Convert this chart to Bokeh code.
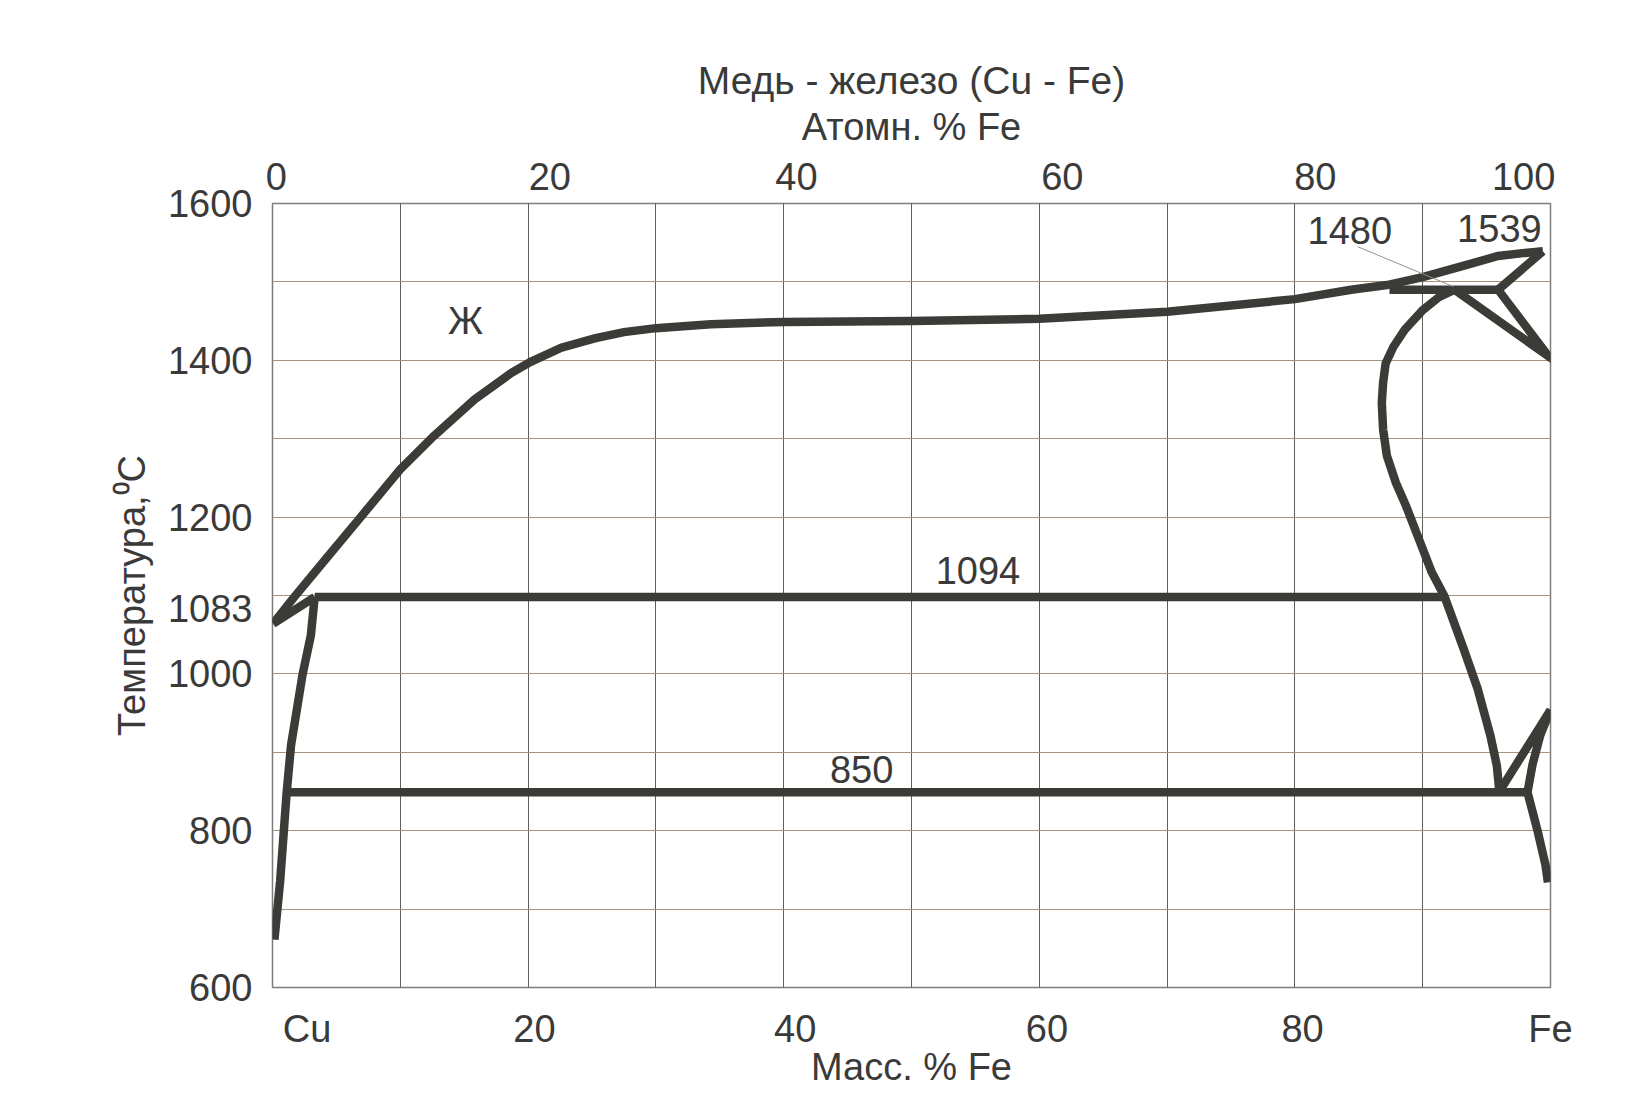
from bokeh.plotting import figure
from bokeh.models import Range1d, FixedTicker, LinearAxis, ColumnDataSource
from bokeh.core.properties import value
from bokeh.embed import file_html
from bokeh.resources import INLINE

# ---------------- data (mass % Fe, temperature °C) ----------------
# liquidus from the Cu side up to the Fe melting point
liquidus_x = [0.05, 1.6, 4.3, 6.9, 10.0, 12.6, 15.8, 18.7, 20.2, 22.6, 25.2, 27.5, 30.0, 34.3,
              40.0, 50.0, 60.0, 70.0, 80.0, 84.4, 87.2, 90.0, 93.3, 95.9, 98.0, 99.4]
liquidus_T = [1064, 1096, 1149, 1200, 1261, 1303, 1350, 1384, 1398, 1416, 1428, 1436, 1441, 1446,
              1449, 1450, 1453, 1462, 1478, 1490, 1496, 1506, 1521, 1533, 1537, 1539]
# short branch from the Cu point up to the 1094 isotherm
cu_branch_x = [0.05, 3.3]
cu_branch_T = [1064, 1098]
# solidus / solvus of the Cu-rich phase
cu_solvus_x = [3.3, 3.0, 2.35, 1.45, 1.1, 0.6, 0.15]
cu_solvus_T = [1098, 1049, 999, 909, 847, 736, 661]
# delta region near pure Fe
delta_x = [99.4, 95.9, 99.85, 92.5]
delta_T = [1539, 1490, 1405, 1490]
# gamma boundary (Fe-rich side)
gamma_x = [92.5, 91.3, 90.0, 88.6, 87.7, 87.1, 86.9, 86.8, 86.9, 87.2, 87.9, 88.7, 89.7,
           90.7, 91.7, 93.2, 94.3, 95.3, 95.8, 96.0]
gamma_T = [1490, 1481, 1464, 1439, 1417, 1396, 1371, 1346, 1312, 1278, 1244, 1214, 1172,
           1130, 1099, 1032, 981, 921, 883, 850]
# alpha region near pure Fe (low temperature)
alpha_x = [96.0, 100.0, 99.2, 98.6, 98.2, 99.0, 99.6, 99.8]
alpha_T = [850, 954, 922, 885, 849, 799, 757, 734]
# isotherms
iso_1094_x = [3.3, 91.7]
iso_1094_T = [1098, 1098]
iso_850_x = [1.1, 98.2]
iso_850_T = [849, 849]
iso_1480_x = [87.4, 95.9]
iso_1480_T = [1490, 1490]
# leader line for the 1480 label
leader_x = [84.9, 92.4]
leader_T = [1545, 1494]

# labels inside the plot
note_text = ["Ж", "1094", "850", "1480", "1539"]
note_x = [15.1, 55.2, 46.1, 84.3, 96.0]
note_T = [1450, 1132, 878, 1566, 1568]

# axes
y_ticks = [600, 800, 1000, 1083, 1200, 1400, 1600]
bottom_ticks = [2.7, 20.5, 40.9, 60.6, 80.6, 100.0]
bottom_labels = ["Cu", "20", "40", "60", "80", "Fe"]
top_ticks = [0.3, 21.7, 41.0, 61.8, 81.6, 97.9]
top_labels = ["0", "20", "40", "60", "80", "100"]

FONT = "Liberation Sans"
TXT = "#3a3a3a"
LINE = "#3b3b37"
FS = "38px"

p = figure(width=1628, height=1090, x_range=Range1d(0, 100), y_range=Range1d(600, 1600),
           output_backend="svg", toolbar_location=None,
           min_border_left=272, min_border_right=78, min_border_top=203, min_border_bottom=100)

p.background_fill_color = "white"
p.border_fill_color = "white"
p.outline_line_color = "#7d7d80"
p.outline_line_width = 1.5

# grid
p.xgrid.ticker = FixedTicker(ticks=list(range(0, 101, 10)))
p.ygrid.ticker = FixedTicker(ticks=list(range(600, 1601, 100)))
p.xgrid.grid_line_color = "#5e5e5e"
p.xgrid.grid_line_width = 1
p.ygrid.grid_line_color = "#a8927c"
p.ygrid.grid_line_width = 1

# title
p.title.text = "Медь - железо (Cu - Fe)"
p.title.align = "center"
p.title.text_font = FONT
p.title.text_font_size = "39px"
p.title.text_font_style = "normal"
p.title.text_color = TXT
p.title.standoff = 2

def style_axis(ax):
    ax.axis_line_color = None
    ax.major_tick_line_color = None
    ax.minor_tick_line_color = None
    ax.major_tick_in = 0
    ax.major_tick_out = 0
    ax.minor_tick_in = 0
    ax.minor_tick_out = 0
    ax.major_label_text_font = FONT
    ax.major_label_text_font_size = FS
    ax.major_label_text_color = TXT
    ax.axis_label_text_font = FONT
    ax.axis_label_text_font_size = FS
    ax.axis_label_text_font_style = "normal"
    ax.axis_label_text_color = TXT

bx = p.below[0]
style_axis(bx)
bx.ticker = FixedTicker(ticks=bottom_ticks)
bx.major_label_overrides = {t: l for t, l in zip(bottom_ticks, bottom_labels)}
bx.axis_label = "Масс. % Fe"
bx.major_label_standoff = 20
bx.axis_label_standoff = -7

ly = p.left[0]
style_axis(ly)
ly.ticker = FixedTicker(ticks=y_ticks)
ly.axis_label = "Температура,⁰C"
ly.major_label_standoff = 20
ly.axis_label_standoff = 12

tx = LinearAxis()
style_axis(tx)
tx.ticker = FixedTicker(ticks=top_ticks)
tx.major_label_overrides = {t: l for t, l in zip(top_ticks, top_labels)}
tx.axis_label = "Атомн. % Fe"
tx.major_label_standoff = 14
tx.axis_label_standoff = 12
p.add_layout(tx, "above")

# curves
LW = 8.5
for xs, ts in [(liquidus_x, liquidus_T), (cu_branch_x, cu_branch_T), (cu_solvus_x, cu_solvus_T),
               (delta_x, delta_T), (gamma_x, gamma_T), (alpha_x, alpha_T),
               (iso_1094_x, iso_1094_T), (iso_850_x, iso_850_T), (iso_1480_x, iso_1480_T)]:
    p.line(xs, ts, line_color=LINE, line_width=LW, line_join="miter", line_cap="butt")

p.line(leader_x, leader_T, line_color="#9a9088", line_width=1)

src = ColumnDataSource(dict(x=note_x, y=note_T, t=note_text))
p.text(x="x", y="y", text="t", source=src, text_font=value(FONT), text_font_size=FS,
       text_color=TXT, text_align="center", text_baseline="middle")

open("out.html", "w").write(file_html(p, INLINE))
